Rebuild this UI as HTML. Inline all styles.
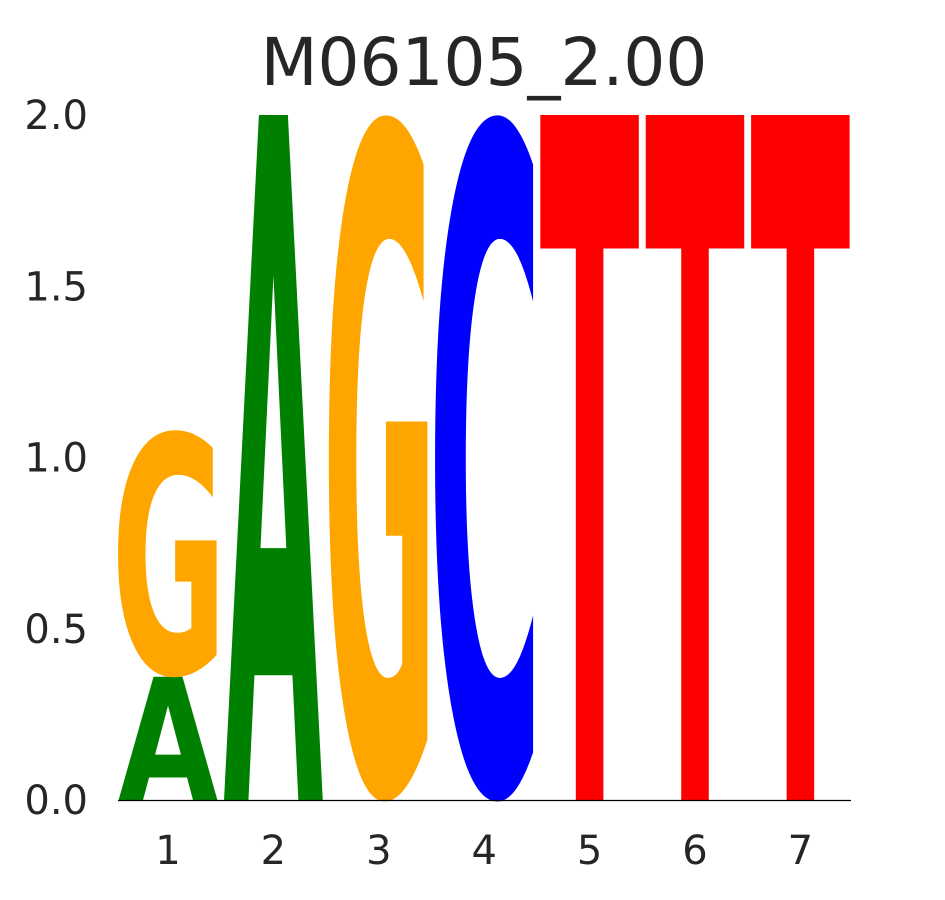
<!DOCTYPE html>
<html><head><meta charset="utf-8">
<style>
html,body{margin:0;padding:0;background:#fff;overflow:hidden;}
svg{display:block;}
</style></head>
<body>
<svg id="chart" width="945" height="900" viewBox="0 0 945 900" xmlns="http://www.w3.org/2000/svg">
  <text x="484" y="85" text-anchor="middle" font-family="DejaVu Sans, Liberation Sans, sans-serif" font-size="66" fill="#262626">M06105_2.00</text>
  <g id="yaxis"></g>
  <g id="xaxis"></g>
  <g id="letters"></g>
  <line x1="118" y1="800.5" x2="851" y2="800.5" stroke="#000" stroke-width="1.2"/>
</svg>
<script>
const positions = [1,2,3,4,5,6,7];
const stackLetters = [["A","G"],["A"],["G"],["C"],["T"],["T"],["T"]];
const stackHeights = [[0.36,0.72],[2.0],[2.0],[2.0],[2.0],[2.0],[2.0]];
const yTicks = [0,0.5,1.0,1.5,2.0];
const yTickLabels = ["0.0","0.5","1.0","1.5","2.0"];
const colors = {A:"#008000",G:"#ffa500",C:"#0000ff",T:"#ff0000"};

const NS="http://www.w3.org/2000/svg";
function yScale(v){ return 800 - v*342.5; }
function xScale(p){ return 168 + (p-1)*105.4; }

const ya=document.getElementById('yaxis');
yTicks.forEach((t,i)=>{
  const tx=document.createElementNS(NS,'text');
  
  
  tx.setAttribute('x',88); tx.setAttribute('y',yScale(t)+14);
  tx.setAttribute('text-anchor','end');
  tx.setAttribute('font-family','DejaVu Sans, Liberation Sans, sans-serif');
  tx.setAttribute('font-size','40'); tx.setAttribute('fill','#262626');
  tx.textContent=yTickLabels[i]; ya.appendChild(tx);
});
const xa=document.getElementById('xaxis');
positions.forEach(p=>{
  const tx=document.createElementNS(NS,'text');
  
  
  tx.setAttribute('x',xScale(p)); tx.setAttribute('y',864);
  tx.setAttribute('text-anchor','middle');
  tx.setAttribute('font-family','DejaVu Sans, Liberation Sans, sans-serif');
  tx.setAttribute('font-size','40'); tx.setAttribute('fill','#262626');
  tx.textContent=String(p); xa.appendChild(tx);
});
const lg=document.getElementById('letters');
const W=100;
const round={G:true,C:true};
positions.forEach((p,i)=>{
  let base=0;
  stackLetters[i].forEach((L,j)=>{
    const h=stackHeights[i][j];
    const y0=yScale(base), y1=yScale(base+h);
    let ph=y0-y1;
    let capH=0.729, tl=W, x0=xScale(p)-W/2, by=y0;
    if(round[L]){ capH=0.755; tl=W*1.16; x0-=7; by=y0-0.0165*ph; }
    const sy=ph/(100*capH);
    const tx=document.createElementNS(NS,'text');
    
    
    tx.setAttribute('x',0); tx.setAttribute('y',0);
    tx.setAttribute('font-family','DejaVu Sans, Liberation Sans, sans-serif');
    tx.setAttribute('font-weight','bold');
    tx.setAttribute('font-size','100');
    tx.setAttribute('textLength',tl);
    tx.setAttribute('lengthAdjust','spacingAndGlyphs');
    tx.setAttribute('fill',colors[L]);
    tx.setAttribute('transform','translate('+x0+','+by+') scale(1,'+sy+')');
    tx.textContent=L; lg.appendChild(tx);
    base+=h;
  });
});
</script>
</body></html>
